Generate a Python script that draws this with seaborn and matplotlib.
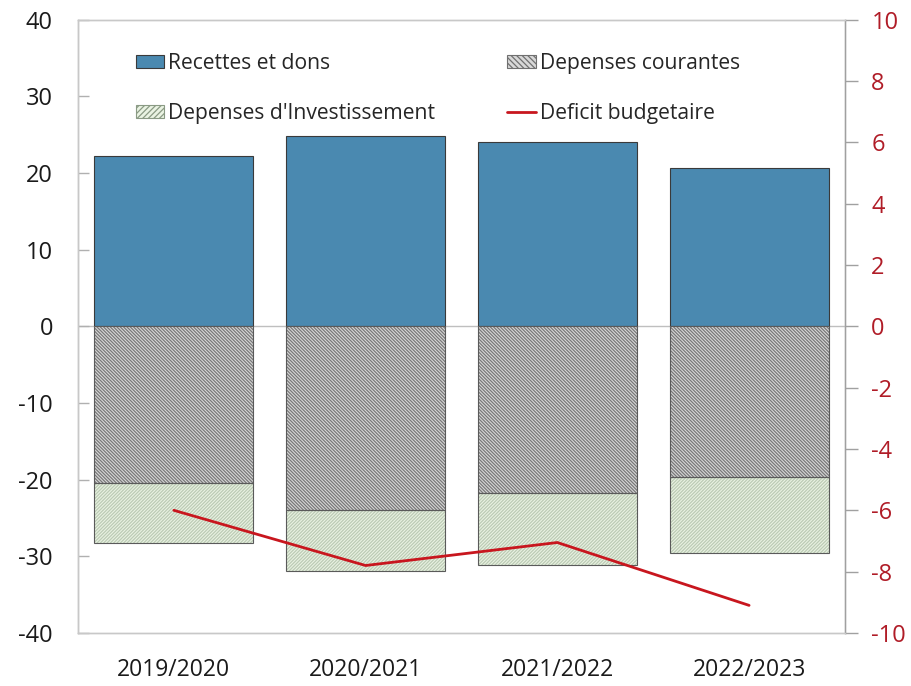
import numpy as np
import pandas as pd
import matplotlib
matplotlib.use("Agg")
import matplotlib.pyplot as plt
import seaborn as sns
from matplotlib.patches import Patch
from matplotlib.lines import Line2D

# Budget figures by fiscal year
years = ["2019/2020", "2020/2021", "2021/2022", "2022/2023"]
recettes = [22.2, 24.8, 24.0, 20.6]
dep_courantes = [-20.4, -24.0, -21.7, -19.6]
dep_invest = [-7.9, -7.9, -9.4, -10.0]
deficit = [-6.0, -7.8, -7.05, -9.1]
left_ticks = [-40, -30, -20, -10, 0, 10, 20, 30, 40]
right_ticks = [-10, -8, -6, -4, -2, 0, 2, 4, 6, 8, 10]

sns.set_theme(style="white")
plt.rcParams["font.family"] = ["Open Sans", "DejaVu Sans"]
plt.rcParams["hatch.linewidth"] = 0.9
plt.rcParams["axes.unicode_minus"] = False

df = pd.DataFrame({"annee": years, "rec": recettes, "cour": dep_courantes,
                   "inv": dep_invest, "def": deficit})

fig = plt.figure(figsize=(9.12, 6.86), dpi=100)
ax = fig.add_axes([0.0855, 0.0773, 0.841, 0.894])
ax2 = ax.twinx()

W = 0.83
edge = "#5a5a5a"
hatch_cour = "\\" * 10
hatch_inv = "/" * 10

# Zero line
ax.axhline(0, color="#bfbfbf", lw=1.0, zorder=0.5)

# Revenues
sns.barplot(data=df, x="annee", y="rec", ax=ax, color="#4a89b0", width=W,
            saturation=1, edgecolor="#3a3a3a", linewidth=0.8, zorder=2)

# Current spending (hatched)
sns.barplot(data=df, x="annee", y="cour", ax=ax, color="#d8d8d8", width=W,
            saturation=1, hatch=hatch_cour, edgecolor="#787878",
            linewidth=0, zorder=2)
sns.barplot(data=df, x="annee", y="cour", ax=ax, fill=False, width=W,
            color=edge, edgecolor=edge, linewidth=0.8, zorder=3)

# Investment spending stacked below current spending
base = np.array(dep_courantes)
sns.barplot(data=df, x="annee", y="inv", ax=ax, color="#eaf3e3", width=W,
            saturation=1, hatch=hatch_inv, edgecolor="#bccbb5",
            linewidth=0, bottom=base, zorder=2)
sns.barplot(data=df, x="annee", y="inv", ax=ax, fill=False, width=W,
            color=edge, edgecolor=edge, linewidth=0.8, bottom=base,
            zorder=3)

# Budget deficit on the right axis
sns.lineplot(x=np.arange(len(years)), y=deficit, ax=ax2, color="#c8161e",
             linewidth=2.0, zorder=4)

ax.set_xlim(-0.5, 3.5)
ax.set_ylim(-40, 40)
ax.set_yticks(left_ticks)
ax2.set_ylim(-10, 10)
ax2.set_yticks(right_ticks)
ax.set_xlabel("")
ax.set_ylabel("")
ax2.set_ylabel("")

ax.tick_params(axis="y", direction="in", length=8, width=1, color="#b0b0b0",
               labelsize=17, labelcolor="#1a1a1a", pad=18, left=True)
ax.tick_params(axis="x", length=0, labelsize=16.5, labelcolor="#1a1a1a", pad=18)
ax2.tick_params(axis="y", direction="out", length=9, width=1, color="#a0a0a0",
                labelsize=17, labelcolor="#b01c27", pad=10, right=True)

for a in (ax, ax2):
    for s in a.spines.values():
        s.set_color("#c8c8c8")
        s.set_linewidth(1.0)
ax2.spines["right"].set_color("#a0a0a0")
ax.spines["left"].set_color("#b8b8b8")

# Legend
handles = [
    Patch(facecolor="#4a89b0", edgecolor="#3a3a3a", lw=0.8),
    Patch(facecolor="#eaf3e3", edgecolor="#8a9a84", hatch="//////", lw=0.8),
    Patch(facecolor="#d8d8d8", edgecolor="#707070", hatch="\\\\\\\\\\\\", lw=0.8),
    Line2D([0], [0], color="#c8161e", lw=2.0),
]
labels = ["Recettes et dons", "Depenses d'Investissement",
          "Depenses courantes", "Deficit budgetaire"]
leg = ax2.legend(handles, labels, ncol=2, loc="upper left",
                 bbox_to_anchor=(0.064, 0.960), frameon=False, fontsize=15.2,
                 handlelength=1.35, handleheight=0.6, handletextpad=0.2,
                 columnspacing=3.4, labelspacing=1.4, borderaxespad=0)
leg.set_zorder(10)

fig.savefig("out.png", dpi=100)
